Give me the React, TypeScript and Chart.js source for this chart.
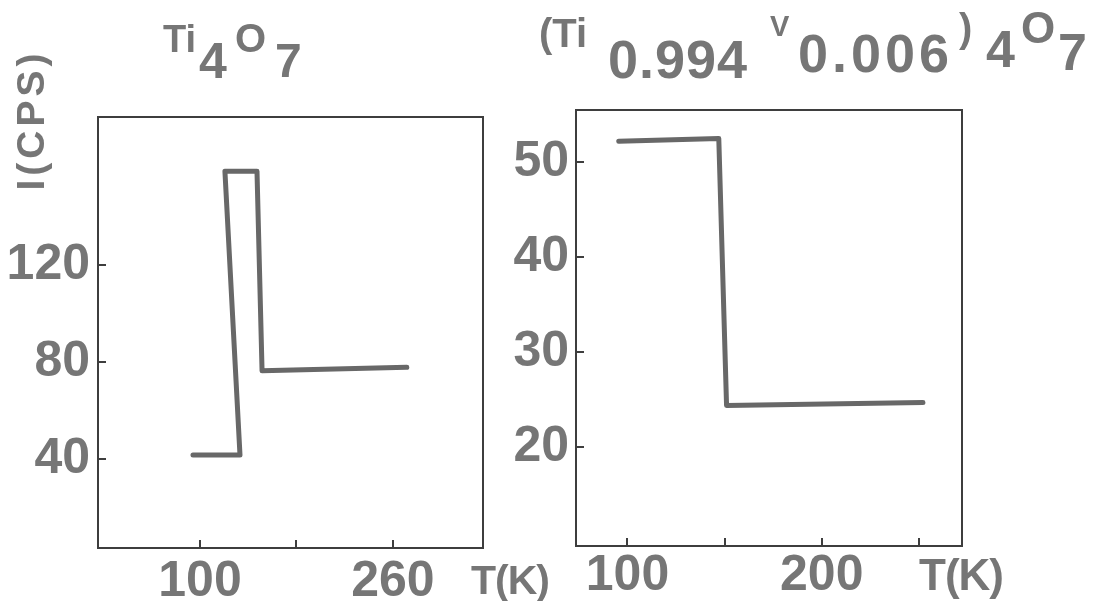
import React, { useEffect, useRef } from 'react';
import { Chart, registerables } from 'chart.js';

Chart.register(...registerables);

// ---- data: Ti4O7 (left panel) ----
const leftT = [94.2, 133.2, 120.7, 147.3, 151.5, 271.6];
const leftI = [41.7, 41.7, 158.6, 158.6, 76.4, 77.9];
const leftXTicks = [100, 180, 260];
const leftXLabels = ['100', '', '260'];
const leftYTicks = [40, 80, 120];
const leftYLabels = ['40', '80', '120'];

// ---- data: (Ti0.994 V0.006)4O7 (right panel) ----
const rightT = [95.5, 147, 151, 252.1];
const rightI = [52.2, 52.5, 24.4, 24.7];
const rightXTicks = [100, 150, 200, 250];
const rightXLabels = ['100', '', '200', ''];
const rightYTicks = [20, 30, 40, 50];
const rightYLabels = ['20', '30', '40', '50'];

const FONT = '"Liberation Sans", Arial, sans-serif';
const TEXT = '#767676';
const LINE = '#686868';
const AXIS = '#3e3e3e';

type TextItem = { t: string; x: number; y: number; size: number; rot?: boolean; ls?: number };

function textPlugin(items: TextItem[]) {
  return {
    id: 'texts',
    afterDraw(chart: any) {
      const ctx = chart.ctx as CanvasRenderingContext2D;
      ctx.save();
      ctx.fillStyle = TEXT;
      ctx.textBaseline = 'alphabetic';
      for (const it of items) {
        ctx.save();
        ctx.font = `bold ${it.size}px ${FONT}`;
        (ctx as any).letterSpacing = `${it.ls ?? 0}px`;
        if (it.rot) {
          ctx.translate(it.x, it.y);
          ctx.rotate(-Math.PI / 2);
          ctx.textAlign = 'center';
          ctx.fillText(it.t, 0, 0);
        } else {
          ctx.textAlign = 'left';
          ctx.fillText(it.t, it.x, it.y);
        }
        ctx.restore();
      }
      ctx.restore();
    },
  };
}

const boxPlugin = {
  id: 'box',
  afterDraw(chart: any) {
    const { ctx, chartArea: a } = chart;
    ctx.save();
    ctx.strokeStyle = AXIS;
    ctx.lineWidth = 2;
    ctx.strokeRect(a.left, a.top, a.right - a.left, a.bottom - a.top);
    ctx.restore();
  },
};

type PanelCfg = {
  W: number;
  H: number;
  area: { left: number; right: number; top: number; bottom: number };
  xs: number[];
  ys: number[];
  xMin: number; xMax: number; yMin: number; yMax: number;
  xTicks: number[]; xLabels: string[];
  yTicks: number[]; yLabels: string[];
  xFont: number; yFont: number;
  xPad: number; yPad: number;
  texts: TextItem[];
};

function buildConfig(p: PanelCfg): any {
  return {
    type: 'line',
    data: {
      datasets: [
        {
          data: p.xs.map((x, i) => ({ x, y: p.ys[i] })),
          borderColor: LINE,
          borderWidth: 5,
          pointRadius: 0,
          tension: 0,
          fill: false,
          borderJoinStyle: 'round',
          borderCapStyle: 'round',
        },
      ],
    },
    options: {
      responsive: false,
      animation: false,
      devicePixelRatio: 1,
      layout: { padding: { left: 0, top: p.area.top, right: p.W - p.area.right, bottom: 0 } },
      plugins: { legend: { display: false }, tooltip: { enabled: false }, title: { display: false } },
      scales: {
        x: {
          type: 'linear',
          position: 'bottom',
          min: p.xMin,
          max: p.xMax,
          afterBuildTicks: (s: any) => { s.ticks = p.xTicks.map((v) => ({ value: v })); },
          afterFit: (s: any) => { s.height = p.H - p.area.bottom; },
          ticks: {
            autoSkip: false,
            maxRotation: 0,
            padding: p.xPad,
            color: TEXT,
            font: { family: FONT, size: p.xFont, weight: 'bold' },
            callback: (v: any) => p.xLabels[p.xTicks.indexOf(Number(v))] ?? '',
          },
          grid: { drawOnChartArea: false, tickLength: -8, color: AXIS, lineWidth: 2 },
          border: { display: true, color: AXIS, width: 2 },
        },
        y: {
          type: 'linear',
          position: 'left',
          min: p.yMin,
          max: p.yMax,
          afterBuildTicks: (s: any) => { s.ticks = p.yTicks.map((v) => ({ value: v })); },
          afterFit: (s: any) => { s.width = p.area.left; },
          ticks: {
            autoSkip: false,
            padding: p.yPad,
            color: TEXT,
            font: { family: FONT, size: p.yFont, weight: 'bold' },
            callback: (v: any) => p.yLabels[p.yTicks.indexOf(Number(v))] ?? '',
          },
          grid: { drawOnChartArea: false, tickLength: -8, color: AXIS, lineWidth: 2 },
          border: { display: true, color: AXIS, width: 2 },
        },
      },
    },
    plugins: [boxPlugin, textPlugin(p.texts)],
  };
}

const leftPanel: PanelCfg = {
  W: 560,
  H: 601,
  area: { left: 98, right: 483, top: 117, bottom: 548 },
  xs: leftT,
  ys: leftI,
  xMin: 15.4, xMax: 334.8, yMin: 3.4, yMax: 181,
  xTicks: leftXTicks, xLabels: leftXLabels,
  yTicks: leftYTicks, yLabels: leftYLabels,
  xFont: 50, yFont: 50,
  xPad: 12, yPad: 16,
  texts: [
    { t: 'Ti', x: 163, y: 52, size: 38 },
    { t: '4', x: 199, y: 78, size: 50 },
    { t: 'O', x: 235, y: 52, size: 40 },
    { t: '7', x: 275, y: 77, size: 48 },
    { t: 'T(K)', x: 471, y: 594, size: 41, ls: -1 },
    { t: 'I(CPS)', x: 44, y: 120, size: 39, rot: true, ls: 4 },
  ],
};

const rightPanel: PanelCfg = {
  W: 595,
  H: 601,
  area: { left: 76, right: 462, top: 110, bottom: 546 },
  xs: rightT,
  ys: rightI,
  xMin: 73.5, xMax: 272.2, yMin: 9.6, yMax: 55.5,
  xTicks: rightXTicks, xLabels: rightXLabels,
  yTicks: rightYTicks, yLabels: rightYLabels,
  xFont: 50, yFont: 50,
  xPad: 8, yPad: 15,
  texts: [
    { t: '(Ti', x: 39, y: 47, size: 40 },
    { t: '0.994', x: 108, y: 78, size: 54, ls: 1 },
    { t: 'V', x: 270, y: 36, size: 29 },
    { t: '0.006', x: 298, y: 72, size: 54, ls: 4 },
    { t: ')', x: 459, y: 42, size: 40 },
    { t: '4', x: 486, y: 67, size: 52 },
    { t: 'O', x: 521, y: 43, size: 44 },
    { t: '7', x: 558, y: 70, size: 52 },
    { t: 'T(K)', x: 419, y: 590, size: 44, ls: -1 },
  ],
};

function Panel({ cfg, left }: { cfg: PanelCfg; left: number }) {
  const ref = useRef<HTMLCanvasElement | null>(null);
  useEffect(() => {
    if (!ref.current) return;
    const chart = new Chart(ref.current, buildConfig(cfg));
    return () => chart.destroy();
  }, [cfg]);
  return (
    <canvas
      ref={ref}
      width={cfg.W}
      height={cfg.H}
      style={{ position: 'absolute', left, top: 0, width: cfg.W, height: cfg.H }}
    />
  );
}

export default function App() {
  return (
    <div style={{ position: 'absolute', left: 0, top: 0, width: 1095, height: 601, background: '#fff', overflow: 'hidden' }}>
      <Panel cfg={leftPanel} left={0} />
      <Panel cfg={rightPanel} left={500} />
    </div>
  );
}
